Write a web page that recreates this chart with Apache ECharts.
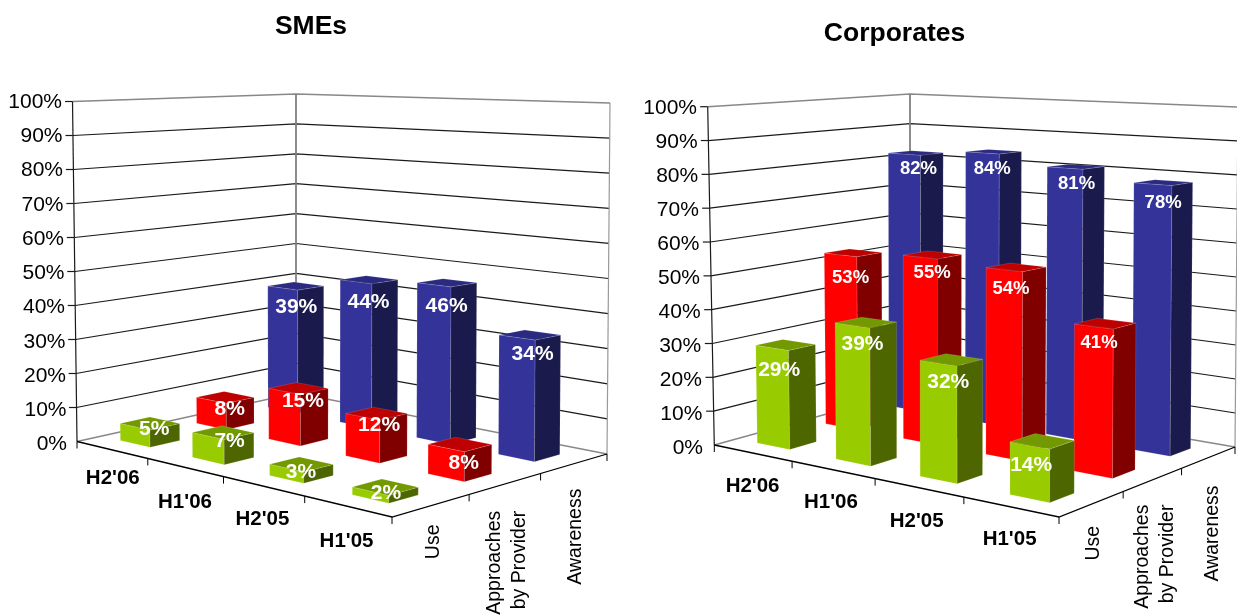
<!DOCTYPE html>
<html><head><meta charset="utf-8">
<style>html,body{margin:0;padding:0;background:#fff}#c{width:1237px;height:615px}</style>
<script src="https://cdn.jsdelivr.net/npm/echarts@6/dist/echarts.min.js"></script>
</head><body><div id="c"></div>
<script>
// ---- data ----
const categories = ["H2'06", "H1'06", "H2'05", "H1'05"];
const seriesNames = ["Use", "Approaches\nby Provider", "Awareness"];
const valueTicks = [0,10,20,30,40,50,60,70,80,90,100];
const smeUse = [5,7,3,2];
const smeApproaches = [8,15,12,8];
const smeAwareness = [39,44,46,34];
const corpUse = [29,39,32,14];
const corpApproaches = [53,55,54,41];
const corpAwareness = [82,84,81,78];

// ---- styles & 3D frame calibration ----
const FONT = '"Liberation Sans", Arial, sans-serif';
const faces = [
  {left:'#99cc00', right:'#4d6600', top:'#739900'},
  {left:'#ff0000', right:'#800000', top:'#bf0000'},
  {left:'#333399', right:'#1a1a4d', top:'#2a2a80'}
];
const BAR_U = 0.21, BAR_V = 0.19, BAR_SHIFT_U = -0.005;
const frames = [
 { floor:[[77,441.5],[392,517],[607,454],[296,393]],
   wallHeight:{left:340,back:299,right:351}, lean:{left:-4.5,right:3},
   grid:{left:72.5, top:102.2, width:530, height:342.3},
   tickLabelGap:[5.5,5],
   sets:[smeUse,smeApproaches,smeAwareness], labelSize:[21,21,21],
   labelOff:[3,14],
   labelNudge:[[[0,-9],[2,-6],[-5,-7],[-4,-8]],[[0,-2],[0,-1],[-2,-3],[-1,4]],[[-4,7],[-5,8],[-5,9],[-2,5]]],
   catOff:[[1,29],[0,35],[-1,33],[-1,35]], serOff:[[2,19],[2,27],[1,25]], title:'SMEs', titleX:306, titleY:22 },
 { floor:[[714.3,445],[1059,517],[1235,447],[910,391]],
   wallHeight:{left:338.3,back:297,right:340}, lean:{left:-6.6,right:3},
   grid:{left:708, top:108.2, width:520, height:340},
   tickLabelGap:[5,6],
   sets:[corpUse,corpApproaches,corpAwareness], labelSize:[21,18.5,18.5],
   labelOff:[3,14],
   labelNudge:[[[-11,11],[-8,8],[-8,8],[-16,10]],[[-7,11],[-5,4],[-10,7],[-11,5]],[[-2,2],[-6,3],[-4,3],[-5,6]]],
   catOff:[[0,33],[-2,33],[-2,34],[-1,32]], serOff:[[2,22],[2,25],[4,28]], title:'Corporates', titleX:889.5, titleY:29 }
];

function homography(p){
  const [x0,y0]=p[0],[x1,y1]=p[1],[x2,y2]=p[2],[x3,y3]=p[3];
  const sx=x0-x1+x2-x3, sy=y0-y1+y2-y3, dx1=x1-x2, dx2=x3-x2, dy1=y1-y2, dy2=y3-y2;
  const den=dx1*dy2-dx2*dy1, g=(sx*dy2-dx2*sy)/den, h=(dx1*sy-sx*dy1)/den;
  const a=x1-x0+g*x1, b=x3-x0+h*x3, d=y1-y0+g*y1, e=y3-y0+h*y3;
  return (u,v)=>{const w=g*u+h*v+1; return [(a*u+b*v+x0)/w,(d*u+e*v+y0)/w];};
}
frames.forEach(f=>{
  const F=homography(f.floor), H=f.wallHeight, L=f.lean;
  const a=1/H.left, c=1/H.back-a, b=1/H.right-1/H.back;
  const xL=f.floor[0][0], xB=f.floor[3][0], xR=f.floor[2][0];
  f.project=(u,v,z)=>{
    const q=F(u,v), h=1/(a+b*u+c*v);
    const dx=q[0]<xB ? L.left*(xB-q[0])/(xB-xL) : L.right*(q[0]-xB)/(xR-xB);
    return [q[0]+dx*z, q[1]-h*z];
  };
});
const poly=(pts,fill)=>({type:'polygon',shape:{points:pts},style:{fill:fill,stroke:'rgba(255,255,255,0.22)',lineWidth:0.6}});
const line=(pts,stroke,w)=>({type:'polyline',shape:{points:pts},style:{fill:null,stroke:stroke,lineWidth:w}});

function zOf(api,v){ // value -> height fraction through the value axis
  const y0=api.coord([0,0])[1], y1=api.coord([0,100])[1];
  return (y0-api.coord([0,v])[1])/(y0-y1);
}
function gridRender(f){return (params,api)=>{
  const v=api.value(1), z=zOf(api,v), p=f.project;
  const a=p(0,0,z), b=p(0,1,z), c=p(1,1,z);
  const grey=(v===0||v===100);
  const kids=[line([a,b,c], grey?'#888888':'#1a1a1a', grey?(v===100?1.6:1.5):1.2)];
  if(v!==0) kids.push(line([[a[0]-7.5,a[1]],a],'#1a1a1a',1.2));
  return {type:'group',children:kids};
};}
function frameRender(f){return (params,api)=>{
  const p=f.project, kids=[];
  kids.push(line([p(0,1,0),p(0,1,1)],'#808080',1.8));
  kids.push(line([p(0,0,0),p(0,0,1)],'#1a1a1a',1.2));
  kids.push(line([p(1,1,0),p(1,1,1)],'#999999',1.2));
  kids.push(line([p(0,0,0),p(1,0,0),p(1,1,0)],'#000000',1.3));
  for(let k=0;k<=categories.length;k++){const a=p(k/categories.length,0,0);kids.push(line([a,[a[0],a[1]+7]],'#000',1));}
  for(let j=1;j<=seriesNames.length;j++){const a=p(1,j/seriesNames.length,0);kids.push(line([a,[a[0],a[1]+7]],'#000',1));}
  categories.forEach((c,i)=>{
    const a=p((i+.5)/categories.length,0,0), o=f.catOff[i];
    kids.push({type:'text',x:a[0]+o[0],y:a[1]+o[1],style:{text:c,align:'center',verticalAlign:'middle',font:'bold 20.5px '+FONT,fill:'#000'}});
  });
  seriesNames.forEach((s,j)=>{
    const a=p(1,(j+.5)/seriesNames.length,0), o=f.serOff[j];
    kids.push({type:'text',x:a[0]+o[0],y:a[1]+o[1],rotation:Math.PI/2,style:{text:s,align:'right',verticalAlign:'middle',font:'19.5px '+FONT,lineHeight:25,fill:'#000'}});
  });
  return {type:'group',children:kids};
};}
function barRender(f,j){return (params,api)=>{
  const p=f.project, i=api.value(0), val=api.value(1), z=zOf(api,val);
  const uc=(i+.5)/categories.length, vc=(j+.5)/seriesNames.length;
  const du=BAR_U/categories.length, dv=BAR_V/seriesNames.length;
  const u0=uc-du+BAR_SHIFT_U,u1=uc+du+BAR_SHIFT_U,v0=vc-dv,v1=vc+dv, c=faces[j];
  const kids=[
    poly([p(u0,v0,0),p(u1,v0,0),p(u1,v0,z),p(u0,v0,z)],c.left),
    poly([p(u1,v0,0),p(u1,v1,0),p(u1,v1,z),p(u1,v0,z)],c.right),
    poly([p(u0,v0,z),p(u1,v0,z),p(u1,v1,z),p(u0,v1,z)],c.top)
  ];
  const a=p(uc,vc,z), n=f.labelNudge[j][i];
  kids.push({type:'text',x:a[0]+f.labelOff[0]+n[0],y:a[1]+f.labelOff[1]+n[1],z2:10,style:{text:val+'%',align:'center',verticalAlign:'middle',font:'bold '+f.labelSize[j]+'px '+FONT,fill:'#fff'}});
  return {type:'group',children:kids};
};}

const grids=[],xAxes=[],yAxes=[],series=[],titles=[];
frames.forEach((f,n)=>{
  grids.push(f.grid);
  xAxes.push({type:'category',gridIndex:n,data:categories,show:false});
  // tick labels follow the slightly leaning wall edge: the gap grows with the value
  const rich={};
  valueTicks.forEach(v=>{rich['t'+v]={fontFamily:FONT,fontSize:21,color:'#000',
    padding:[0,f.tickLabelGap[0]+f.tickLabelGap[1]*v/100,0,0]};});
  yAxes.push({type:'value',gridIndex:n,min:0,max:100,interval:10,
    axisLine:{show:false},axisTick:{show:false},splitLine:{show:false},
    axisLabel:{margin:0,formatter:v=>'{t'+v+'|'+v+'%}',rich:rich}});
  titles.push({text:f.title,left:f.titleX,top:f.titleY,textAlign:'center',textVerticalAlign:'middle',
    textStyle:{fontFamily:FONT,fontSize:26.5,fontWeight:'bold',color:'#000'}});
  const base={type:'custom',xAxisIndex:n,yAxisIndex:n,silent:true,animation:false,clip:false,encode:{x:0,y:1}};
  series.push(Object.assign({},base,{name:f.title+' grid',renderItem:gridRender(f),data:valueTicks.map(v=>[0,v])}));
  series.push(Object.assign({},base,{name:f.title+' frame',renderItem:frameRender(f),data:[[0,0]]}));
  [2,1,0].forEach(j=>{
    series.push(Object.assign({},base,{name:f.title+' '+seriesNames[j],renderItem:barRender(f,j),
      data:f.sets[j].map((v,i)=>[i,v])}));
  });
});
const chart=echarts.init(document.getElementById('c'),null,{renderer:'canvas'});
chart.setOption({backgroundColor:'#fff',animation:false,title:titles,grid:grids,xAxis:xAxes,yAxis:yAxes,series:series,tooltip:{show:false}});
</script></body></html>
